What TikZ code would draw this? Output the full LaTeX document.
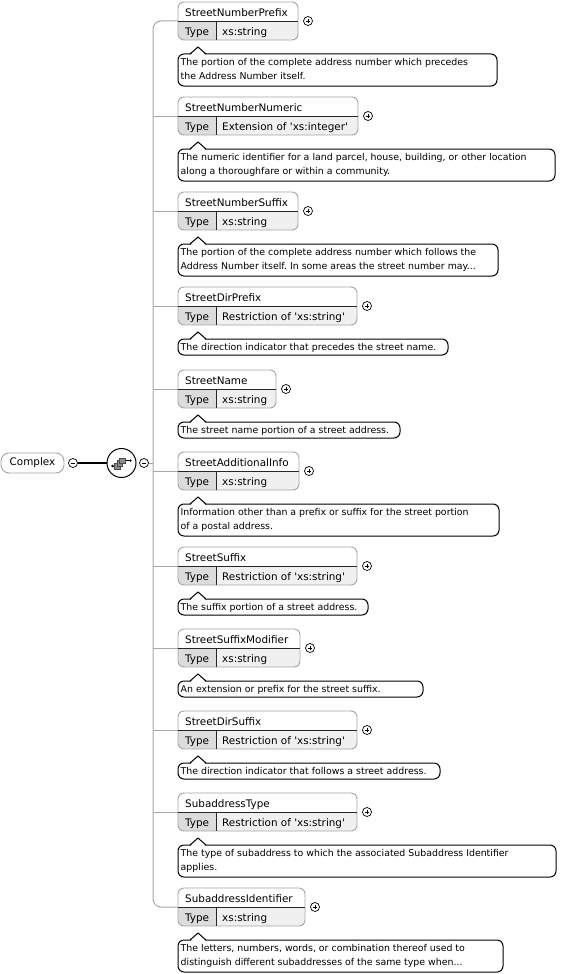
\documentclass[tikz,border=0pt]{standalone}
\usepackage{fontspec}
\setmainfont{DejaVu Sans}
\frenchspacing
\definecolor{rimgray}{HTML}{A4A4A4}
\definecolor{typegray}{HTML}{DCDCDC}
\definecolor{valgray}{HTML}{F0F0F0}
\definecolor{spinegray}{HTML}{A8A8A8}
\definecolor{icongray}{HTML}{8C8C8C}

% #1 node name, #2 element, #3 type, #4 top, #5 right, #6 doc height, #7 doc right, #8 doc text
\newcommand{\xselem}[8]{%
  \begin{scope}
    \clip[rounded corners=6] (178,#4) rectangle (#5,#4+38);
    \fill[typegray] (178,#4+19) rectangle (216,#4+38);
    \fill[valgray] (216,#4+19) rectangle (#5,#4+38);
  \end{scope}
  \node[elembox, minimum width=#5-178] (#1) at (178,#4+19) {};
  \draw[sepline] (178,#4+19) -- (#5,#4+19);
  \draw[sepline] (216,#4+19) -- (216,#4+38);
  \node[namelbl] (#1n) at (185,#4+14.5) {#2};
  \node[namelbl] (#1k) at (185,#4+33.5) {Type};
  \node[namelbl] (#1v) at (222,#4+33.5) {#3};
  \node[pm] (#1p) at (#5+10,#4+19) {};
  \draw[pmsign] (#1p.center) +(-2.4,0) -- +(2.4,0) (#1p.center) +(0,-2.4) -- +(0,2.4);
  \draw[docbox] (178,#4+52) rectangle (#7,#4+52+#6);
  \fill[white] (190.6,#4+52.9) -- (198,#4+45.6) -- (205.4,#4+52.9) -- cycle;
  \draw[docbox, sharp corners] (190,#4+52) -- (198,#4+45) -- (206,#4+52);
  \node[doclbl] (#1d) at (180.5,#4+56.5) {#8};
}
\newcommand{\sq}{\textquotesingle}

\begin{document}
\begin{tikzpicture}[x=1pt,y=-1pt,
    elembox/.style={draw=rimgray, line width=0.9pt, rounded corners=6, anchor=west,
      minimum height=38, inner sep=0, outer sep=0},
    sepline/.style={draw=black!85, line width=0.8pt},
    namelbl/.style={anchor=base west, inner sep=0, font=\fontsize{10.4}{12}\selectfont},
    doclbl/.style={anchor=north west, inner sep=0, align=left,
      font=\fontsize{9.4}{13.5}\selectfont},
    docbox/.style={draw=black, line width=1pt, rounded corners=6},
    pm/.style={circle, draw=black, line width=0.7pt, minimum size=9, inner sep=0, fill=white},
    pmsign/.style={line width=0.7pt},
    conn/.style={draw=spinegray, line width=1pt},
    compnode/.style={draw=rimgray, fill=white, rounded corners=8, line width=0.9pt,
      minimum width=63, minimum height=20, inner sep=0, font=\fontsize{10.4}{12}\selectfont},
    seqnode/.style={circle, draw=black, line width=1pt, minimum size=29, inner sep=0},
    sqbox/.style={draw=black!70, fill=icongray, line width=0.5pt, minimum size=5.5, inner sep=0}]
  \useasboundingbox (0,0) rectangle (580,974);

  % root and sequence
  \node[compnode] (complex) at (32.5,463) {Complex};
  \node[pm] (complexm) at (73,463) {};
  \draw[pmsign] (complexm.center) +(-2.4,0) -- +(2.4,0);
  \node[seqnode] (seq) at (121.5,463) {};
  \draw[very thick] (complexm) -- (seq);
  \draw[line width=0.8pt] (112.5,466) -- (117,466);
  \draw[line width=0.8pt] (122.4,460.6) -- (130.5,460.6);
  \node[sqbox] (sqa) at (117,466) {};
  \node[sqbox] (sqb) at (119.7,463.3) {};
  \node[sqbox] (sqc) at (122.4,460.6) {};
  \fill (112.5,466) circle (1.3);
  \fill (130.5,460.6) circle (1.3);
  \node[pm] (seqm) at (144,463) {};
  \draw[pmsign] (seqm.center) +(-2.4,0) -- +(2.4,0);
  \coordinate (spine) at (153,463);
  \draw[conn] (seqm) -- (spine);

  % elements
  \xselem{prefix}{StreetNumberPrefix}{xs:string}{2}{298}{32}{497}%
    {The portion of the complete address number which precedes\\the Address Number itself.}
  \xselem{numeric}{StreetNumberNumeric}{Extension of \sq xs:integer\sq}{97}{358}{32}{555}%
    {The numeric identifier for a land parcel, house, building, or other location\\along a thoroughfare or within a community.}
  \xselem{suffix}{StreetNumberSuffix}{xs:string}{192}{298}{32}{498}%
    {The portion of the complete address number which follows the\\Address Number itself. In some areas the street number may...}
  \xselem{dirpre}{StreetDirPrefix}{Restriction of \sq xs:string\sq}{287}{357}{16}{448}%
    {The direction indicator that precedes the street name.}
  \xselem{name}{StreetName}{xs:string}{370}{276}{16}{400}%
    {The street name portion of a street address.}
  \xselem{addinfo}{StreetAdditionalInfo}{xs:string}{452}{299}{32}{499}%
    {Information other than a prefix or suffix for the street portion\\of a postal address.}
  \xselem{sfx}{StreetSuffix}{Restriction of \sq xs:string\sq}{547}{357}{16}{368}%
    {The suffix portion of a street address.}
  \xselem{sfxmod}{StreetSuffixModifier}{xs:string}{629}{300}{16}{423}%
    {An extension or prefix for the street suffix.}
  \xselem{dirsfx}{StreetDirSuffix}{Restriction of \sq xs:string\sq}{711}{357}{16}{440}%
    {The direction indicator that follows a street address.}
  \xselem{subtype}{SubaddressType}{Restriction of \sq xs:string\sq}{793}{357}{32}{556}%
    {The type of subaddress to which the associated Subaddress Identifier\\applies.}
  \xselem{subid}{SubaddressIdentifier}{xs:string}{888}{305}{32}{503}%
    {The letters, numbers, words, or combination thereof used to\\distinguish different subaddresses of the same type when...}

  % connectors
  \draw[conn, rounded corners=8] (prefix.west) -- (spine |- prefix.west)
    -- (spine |- subid.west) -- (subid.west);
  \draw[conn] (spine |- numeric.west) -- (numeric.west);
  \draw[conn] (spine |- suffix.west) -- (suffix.west);
  \draw[conn] (spine |- dirpre.west) -- (dirpre.west);
  \draw[conn] (spine |- name.west) -- (name.west);
  \draw[conn] (spine |- addinfo.west) -- (addinfo.west);
  \draw[conn] (spine |- sfx.west) -- (sfx.west);
  \draw[conn] (spine |- sfxmod.west) -- (sfxmod.west);
  \draw[conn] (spine |- dirsfx.west) -- (dirsfx.west);
  \draw[conn] (spine |- subtype.west) -- (subtype.west);
\end{tikzpicture}
\end{document}
